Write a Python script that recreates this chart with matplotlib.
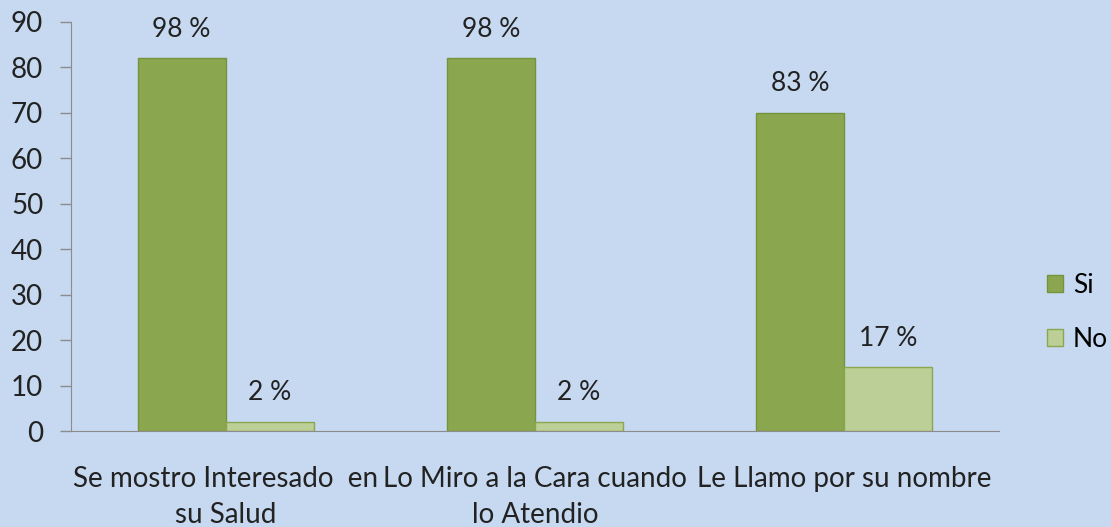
import numpy as np
import matplotlib.pyplot as plt

plt.rcParams['font.family'] = ['Lato', 'DejaVu Sans']

categories = ['Se mostro Interesado  en\nsu Salud',
              'Lo Miro a la Cara cuando\nlo Atendio',
              'Le Llamo por su nombre']
si_values = [82, 82, 70]
no_values = [2, 2, 14]
si_labels = ['98 %', '98 %', '83 %']
no_labels = ['2 %', '2 %', '17 %']

bg = '#c6d9f0'
fig = plt.figure(figsize=(11.11, 5.27), dpi=100, facecolor=bg)
ax = fig.add_axes([71 / 1111, 96 / 527, 928 / 1111, 409 / 527], facecolor=bg)

x = np.arange(len(categories))
w = 0.285
b_si = ax.bar(x - w / 2, si_values, w, color='#8aa64f', edgecolor='#76923c', linewidth=1, label='Si')
b_no = ax.bar(x + w / 2, no_values, w, color='#bccf97', edgecolor='#8aa64f', linewidth=1, label='No')

for bars, labs in ((b_si, si_labels), (b_no, no_labels)):
    for r, t in zip(bars, labs):
        ax.annotate(t, (r.get_x() + r.get_width() / 2, r.get_height()),
                    xytext=(0, 12), textcoords='offset points',
                    ha='center', va='bottom', fontsize=19, color='#222222')

ax.set_xlim(-0.5, 2.5)
ax.set_ylim(0, 90)
ax.set_yticks(range(0, 91, 10))
ax.set_xticks(x)
ax.set_xticklabels(categories, fontsize=20, linespacing=1.5, color='#222222')
ax.tick_params(axis='x', length=0, pad=25)
ax.tick_params(axis='y', length=8, width=1, color='#8c8c8c', labelsize=20,
               labelcolor='#222222', pad=12)
for s in ('top', 'right'):
    ax.spines[s].set_visible(False)
ax.spines['left'].set_color('#8c8c8c')
ax.spines['bottom'].set_color('#8c8c8c')

ax.legend(loc='center left', bbox_to_anchor=(1.04, 0.29), frameon=False,
          fontsize=19, handlelength=0.6, handleheight=0.6, labelspacing=1.1,
          handletextpad=0.4, borderaxespad=0)

fig.savefig('out.png', dpi=100, facecolor=bg)
